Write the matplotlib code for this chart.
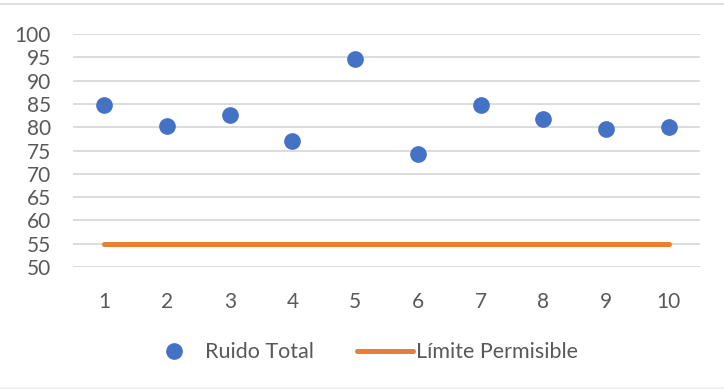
#!/usr/bin/env python

import matplotlib.pyplot as plt
from matplotlib.lines import Line2D

# measured noise per point and the allowed limit
puntos = [1, 2, 3, 4, 5, 6, 7, 8, 9, 10]
ruido_total = [84.8, 80.3, 82.7, 77.1, 94.7, 74.3, 84.8, 81.7, 79.6, 80.0]
limite = [55, 55, 55, 55, 55, 55, 55, 55, 55, 55]
y_ticks = [50, 55, 60, 65, 70, 75, 80, 85, 90, 95, 100]

AZUL = '#4472C4'
NARANJA = '#ED7D31'
GRIS = '#595959'


def main():
    plt.rcParams['font.family'] = ['Lato', 'DejaVu Sans']

    fig = plt.figure(figsize=(7.24, 3.89), dpi=100)
    ax = fig.add_axes([0.1008, 0.3136, 0.866, 0.599])

    ax.plot(puntos, limite, color=NARANJA, linewidth=3.6,
            solid_capstyle='round', label='Límite Permisible', zorder=2)
    ax.plot(puntos, ruido_total, linestyle='none', marker='o', markersize=11,
            color=AZUL, markeredgecolor=AZUL, label='Ruido Total', zorder=3)

    ax.set_xlim(0.5, 10.5)
    ax.set_ylim(50, 100)
    ax.set_xticks(puntos)
    ax.set_yticks(y_ticks)
    ax.grid(True, axis='y', color='#D9D9D9', linewidth=1.3)
    ax.set_axisbelow(True)
    for s in ax.spines.values():
        s.set_visible(False)
    ax.tick_params(length=0, labelsize=15, colors=GRIS)
    ax.tick_params(axis='x', pad=18)
    ax.tick_params(axis='y', pad=16)

    handles, labels = ax.get_legend_handles_labels()
    ax.legend(handles[::-1], labels[::-1], loc='center', ncol=2,
              bbox_to_anchor=(0.5, 0.095), bbox_transform=fig.transFigure,
              frameon=False, fontsize=15.5, labelcolor=GRIS,
              handlelength=2.6, columnspacing=2.0, handletextpad=0.15)

    # thin border lines of the chart area
    fig.add_artist(Line2D([0, 1], [0.99, 0.99], color='#D9D9D9', linewidth=1.2))
    fig.add_artist(Line2D([0, 1], [0.003, 0.003], color='#EEEEEE', linewidth=1.2))

    fig.savefig('out.png', dpi=100)


if __name__ == '__main__':
    main()
